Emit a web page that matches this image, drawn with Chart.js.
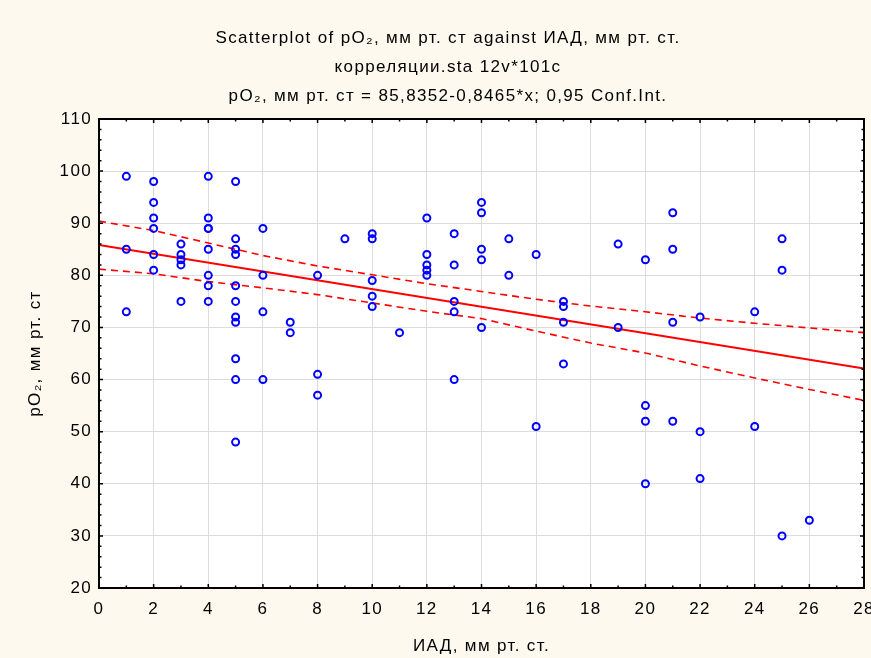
<!DOCTYPE html>
<html>
<head>
<meta charset="utf-8">
<script src="https://cdn.jsdelivr.net/npm/chart.js@4/dist/chart.umd.min.js"></script>
<style>
  html, body { margin: 0; padding: 0; background: #fef9ef; }
  canvas { display: block; }
</style>
</head>
<body>
<canvas id="scatterChart" width="871" height="658"></canvas>
<script>
// observed cases: ИАД (x) and pO2 (y)
var iadValues = [
    1, 1, 1,
    2, 2, 2, 2, 2, 2,
    3, 3, 3, 3, 3,
    4, 4, 4, 4, 4, 4, 4, 4,
    5, 5, 5, 5, 5, 5, 5, 5, 5, 5, 5,
    6, 6, 6, 6,
    7, 7,
    8, 8, 8,
    9,
    10, 10, 10, 10, 10,
    11,
    12, 12, 12, 12, 12,
    13, 13, 13, 13, 13,
    14, 14, 14, 14, 14,
    15, 15,
    16, 16,
    17, 17, 17, 17,
    19, 19,
    20, 20, 20, 20,
    21, 21, 21, 21,
    22, 22, 22,
    24, 24,
    25, 25, 25,
    26
];
var po2Values = [
    99, 85, 73,
    98, 94, 91, 89, 84, 81,
    86, 84, 83, 82, 75,
    99, 91, 89, 89, 85, 80, 78, 75,
    98, 87, 85, 84, 78, 75, 72, 71, 64, 60, 48,
    89, 80, 73, 60,
    71, 69,
    80, 61, 57,
    87,
    88, 87, 79, 76, 74,
    69,
    91, 84, 82, 81, 80,
    88, 82, 75, 73, 60,
    94, 92, 85, 83, 70,
    87, 80,
    84, 51,
    75, 74, 71, 63,
    86, 70,
    83, 55, 52, 40,
    92, 85, 71, 52,
    72, 50, 41,
    73, 51,
    87, 81, 30,
    33
];

// regression line pO2 = 85,8352 - 0,8465*x, ends of the x range
var fitX = [0, 28];
var fitY = [85.84, 62.13];

// 0,95 confidence band
var bandX = [0, 2, 4, 6, 8, 10, 12, 14, 16, 18, 20, 22, 24, 26, 28];
var bandUpper = [90.4, 88.6, 86.2, 83.8, 81.8, 80.1, 78.4, 76.9, 75.4, 74.1, 73.0, 71.8, 70.8, 69.9, 69.0];
var bandLower = [81.2, 80.3, 78.8, 77.6, 76.3, 74.7, 73.1, 71.7, 69.3, 67.0, 65.1, 62.6, 60.3, 58.1, 56.0];

var titleLines = [
    'Scatterplot of pO\u2082, мм рт. ст against ИАД, мм рт. ст.',
    'корреляции.sta 12v*101c',
    'pO\u2082, мм рт. ст = 85,8352-0,8465*x; 0,95 Conf.Int.'
];
var xTitle = 'ИАД, мм рт. ст.';
var yTitle = 'pO\u2082, мм рт. ст';

function toPoints(xs, ys) {
    var pts = [];
    for (var i = 0; i < xs.length; i++) {
        pts.push({x: xs[i], y: ys[i]});
    }
    return pts;
}

var fontFamily = "'Liberation Sans', Arial, sans-serif";
var spacing = '1.35px';

// white plot area, frame and small inner ticks like the original
var framePlugin = {
    id: 'frame',
    beforeUpdate: function(chart) {
        chart.ctx.letterSpacing = spacing;
    },
    beforeDraw: function(chart) {
        var a = chart.chartArea;
        var ctx = chart.ctx;
        ctx.letterSpacing = spacing;
        ctx.save();
        ctx.fillStyle = '#ffffff';
        ctx.fillRect(a.left, a.top, a.right - a.left, a.bottom - a.top);
        ctx.restore();
    },
    afterDraw: function(chart) {
        var a = chart.chartArea;
        var ctx = chart.ctx;
        var xs = chart.scales.x;
        var ys = chart.scales.y;
        ctx.save();
        ctx.strokeStyle = '#000000';
        ctx.lineWidth = 1.5;
        var v, p, len;
        ctx.beginPath();
        for (v = 1; v < 28; v++) {
            p = xs.getPixelForValue(v);
            len = (v % 2 == 0) ? 4 : 2.5;
            ctx.moveTo(p, a.bottom); ctx.lineTo(p, a.bottom - len);
            ctx.moveTo(p, a.top); ctx.lineTo(p, a.top + len);
        }
        for (v = 22; v < 110; v += 2) {
            p = ys.getPixelForValue(v);
            len = (v % 10 == 0) ? 4 : 2.5;
            ctx.moveTo(a.left, p); ctx.lineTo(a.left + len, p);
            ctx.moveTo(a.right, p); ctx.lineTo(a.right - len, p);
        }
        ctx.stroke();
        ctx.lineWidth = 2;
        ctx.strokeRect(a.left, a.top, a.right - a.left, a.bottom - a.top);
        ctx.restore();
    }
};

const config = {
    type: 'scatter',
    data: {
        datasets: [
            {
                label: 'cases',
                data: toPoints(iadValues, po2Values),
                pointStyle: 'circle',
                pointRadius: 3.5,
                pointBorderWidth: 2,
                borderColor: '#0000ff',
                backgroundColor: 'rgba(0,0,0,0)',
                order: 1
            },
            {
                label: 'fit',
                data: toPoints(fitX, fitY),
                showLine: true,
                pointRadius: 0,
                borderColor: '#ff0000',
                borderWidth: 2,
                order: 2
            },
            {
                label: 'upper',
                data: toPoints(bandX, bandUpper),
                showLine: true,
                pointRadius: 0,
                borderColor: '#ff0000',
                borderWidth: 1.6,
                borderDash: [7, 5],
                order: 2
            },
            {
                label: 'lower',
                data: toPoints(bandX, bandLower),
                showLine: true,
                pointRadius: 0,
                borderColor: '#ff0000',
                borderWidth: 1.6,
                borderDash: [7, 5],
                order: 2
            }
        ]
    },
    options: {
        responsive: false,
        animation: false,
        layout: {
            padding: {left: 32, top: 0, right: 7, bottom: 0}
        },
        plugins: {
            legend: {display: false},
            tooltip: {enabled: false},
            title: {
                display: true,
                text: titleLines,
                color: '#000000',
                font: {family: fontFamily, size: 17, weight: 'normal', lineHeight: 1.706},
                padding: {top: 24, bottom: 8}
            }
        },
        scales: {
            x: {
                type: 'linear',
                min: 0,
                max: 28,
                ticks: {
                    stepSize: 2,
                    color: '#000000',
                    padding: 11,
                    font: {family: fontFamily, size: 17}
                },
                grid: {color: '#dcdcdc', lineWidth: 1, drawTicks: false},
                border: {display: false},
                title: {
                    display: true,
                    text: xTitle,
                    color: '#000000',
                    font: {family: fontFamily, size: 17},
                    padding: {top: 0, bottom: 1}
                },
                afterFit: function(scale) {
                    scale.height = 70;
                    scale.paddingLeft = 0;
                    scale.paddingRight = 0;
                }
            },
            y: {
                type: 'linear',
                min: 20,
                max: 110,
                ticks: {
                    stepSize: 10,
                    color: '#000000',
                    padding: 7,
                    font: {family: fontFamily, size: 17}
                },
                grid: {color: '#dcdcdc', lineWidth: 1, drawTicks: false},
                border: {display: false},
                title: {
                    display: true,
                    text: yTitle,
                    color: '#000000',
                    font: {family: fontFamily, size: 17},
                    padding: {top: -7, bottom: 0}
                },
                afterFit: function(scale) {
                    scale.width = 67;
                    scale.paddingTop = 0;
                    scale.paddingBottom = 0;
                }
            }
        }
    },
    plugins: [framePlugin]
};

const myChart = new Chart(
    document.getElementById('scatterChart'),
    config
);
</script>
</body>
</html>
